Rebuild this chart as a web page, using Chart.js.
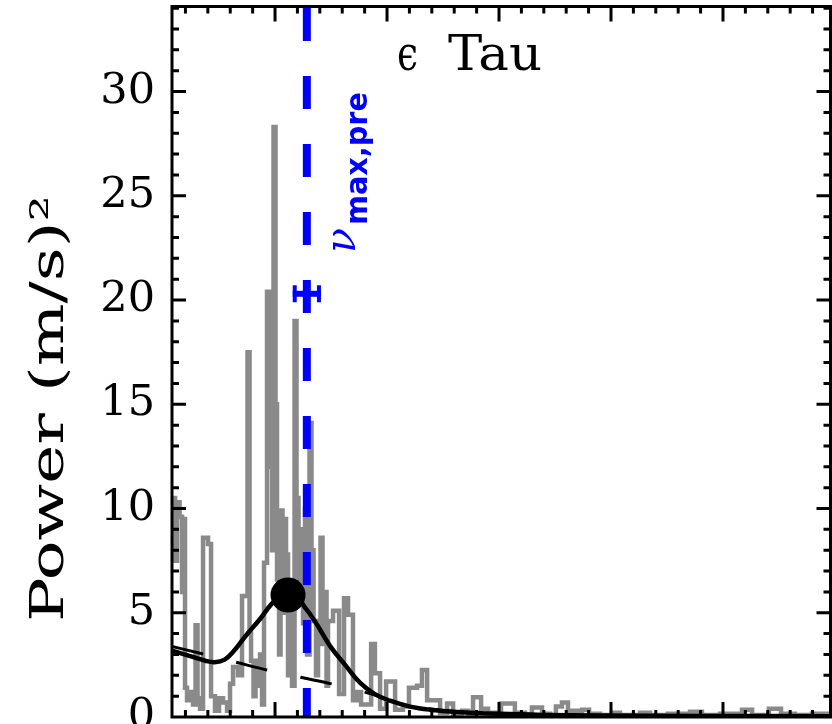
<!DOCTYPE html>
<html><head><meta charset="utf-8">
<script src="https://cdn.jsdelivr.net/npm/chart.js@4.4.1/dist/chart.umd.min.js"></script>
<style>html,body{margin:0;padding:0;background:#fff;overflow:hidden}canvas{display:block}</style>
</head><body>
<canvas id="c" width="832" height="724"></canvas>
<script>
// ---- data (frequency in microHz, power in (m/s)^2) ----
const specFreq = [4.0,5.36,6.25,7.37,8.48,9.15,9.82,10.71,12.05,13.39,14.51,15.40,16.52,17.86,20.09,21.43,23.21,25.0,26.79,28.57,29.91,31.25,33.48,35.27,37.72,38.62,39.29,40.40,41.29,42.41,43.30,44.20,45.09,46.43,47.32,47.99,48.66,49.33,50.22,50.89,51.79,52.46,53.35,54.02,54.91,55.80,56.70,57.59,58.71,59.60,60.49,61.38,62.50,63.39,64.29,65.40,66.29,67.19,68.30,69.20,70.31,71.21,72.10,72.99,73.66,75.9,78.6,80.8,82.6,84.8,86.6,88.4,92.9,94.6,96.9,99.6,103.6,107.1,109.8,113.4,115.6,117.9,123.7,126.8,129.5,133.5,136.2,138.4,142.0,145.1,150.9,157.1,161.6,164.7,169.2,172.8,175.4,178.1,180.8,187.1,190.2,195.1,200.4,204.0,213.0,217.4,225.4,235.3,240.6,248.7,258.5,263.0,270.5,275.9,282.1,289.7,298.0];
const specPower = [10.5,7.5,10.3,9.6,6.0,9.5,1.4,0.8,1.2,0.6,4.4,0.9,0.4,8.6,8.3,1.0,0.3,0.9,0.7,0.3,1.6,2.4,2.0,5.8,17.5,4.0,2.7,1.0,2.7,1.5,3.0,0.6,7.4,20.4,12.0,20.0,8.0,28.3,15.0,6.6,3.0,9.9,5.0,9.5,7.8,2.0,6.0,1.5,19.0,10.5,6.0,9.0,4.5,10.0,3.0,14.1,8.0,4.6,2.0,4.6,8.6,3.5,6.0,1.5,4.6,5.1,1.1,5.7,4.9,0.8,1.2,0.6,3.5,2.1,0.4,1.7,0.35,0.5,1.4,1.5,2.25,0.8,0.2,0.65,0.15,0.3,0.1,0.95,0.4,0.2,0.65,0.2,0.1,0.45,0.15,0.1,0.5,0.7,0.3,0.35,0.15,0.1,0.2,0.1,0.2,0.1,0.15,0.25,0.1,0.15,0.35,0.1,0.4,0.15,0.1,0.15,0.1];

const fitFreq = [4.0,12.1,18.8,23.0,27.5,31.5,36.6,43.3,48.7,53.1,56.7,60.3,63.4,66.5,69.2,74.6,81.3,87.9,94.6,101.3,110.3,119.2,131.3,150.4,169.6,195.1,239.7,298.0];
const fitPower = [3.18,2.92,2.7,2.63,2.75,3.15,3.85,4.7,5.45,5.8,5.9,5.7,5.25,4.8,4.35,3.4,2.5,1.65,1.1,0.78,0.5,0.35,0.24,0.15,0.1,0.07,0.05,0.04];

const bgFreq = [4.0,18.8,33.5,47.8,62.5,77.7,92.4,106.7,123.7,141.5,168.3,204.0,248.7,298.0];
const bgPower = [3.38,3.0,2.6,2.22,1.88,1.53,1.12,0.6,0.33,0.2,0.1,0.07,0.05,0.04];

const numaxFreq = 55.8, numaxPower = 5.85;      // fitted peak (filled circle)
const numaxPre = 64.2, numaxPreErr = 6.3, numaxPreMarkY = 20.3;

const yTickValues = [0,5,10,15,20,25,30];
const xMajorTicks = [50,100,150,200,250];
const xRange = [4.0, 298.0];
const yRange = [0, 34.08];

const titleText = "\u03F5";
const titleText2 = "Tau";
const yTitle = "Power (m/s)\u00B2";
const labelMain = "\u03BD";
const labelSub = "max,pre";

// ---- helpers ----
function zip(a,b){ return a.map((v,i)=>({x:v,y:b[i]})); }
function fittedText(ctx, text, font, x, y, len, rot, color){
  ctx.save();
  ctx.translate(x,y);
  if(rot) ctx.rotate(-Math.PI/2);
  ctx.font = font;
  const w = ctx.measureText(text).width;
  ctx.scale(len ? len/w : 1, 1);
  ctx.fillStyle = color;
  ctx.textBaseline = 'alphabetic';
  ctx.textAlign = 'left';
  ctx.fillText(text,0,0);
  ctx.restore();
}

const framePlugin = {
  id:'frame',
  afterDatasetsDraw(chart){
    const ctx = chart.ctx, a = chart.chartArea;
    const xs = chart.scales.x, ys = chart.scales.y;
    ctx.save();
    // error bar marker on nu_max,pre
    const ex0 = xs.getPixelForValue(numaxPre-numaxPreErr), ex1 = xs.getPixelForValue(numaxPre+numaxPreErr);
    const ey = ys.getPixelForValue(numaxPreMarkY);
    ctx.strokeStyle = '#0000ff'; ctx.lineCap='butt';
    ctx.lineWidth = 6;
    ctx.beginPath(); ctx.moveTo(ex0,ey); ctx.lineTo(ex1,ey); ctx.stroke();
    ctx.lineWidth = 4;
    ctx.beginPath(); ctx.moveTo(ex0+2,ey-8.5); ctx.lineTo(ex0+2,ey+8.5);
    ctx.moveTo(ex1-2,ey-8.5); ctx.lineTo(ex1-2,ey+8.5); ctx.stroke();

    // frame
    ctx.strokeStyle = '#000'; ctx.lineWidth = 3;
    ctx.strokeRect(a.left, a.top, a.right-a.left, a.bottom-a.top);
    ctx.lineWidth = 3;
    ctx.beginPath();
    for(let v=10; v<xRange[1]; v+=10){
      const px = xs.getPixelForValue(v);
      const L = xMajorTicks.includes(v) ? 15 : 7;
      ctx.moveTo(px, a.bottom); ctx.lineTo(px, a.bottom-L);
      ctx.moveTo(px, a.top); ctx.lineTo(px, a.top+L);
    }
    for(let v=1; v<yRange[1]; v+=1){
      const py = ys.getPixelForValue(v);
      const L = (v%5===0) ? 14 : 7;
      ctx.moveTo(a.left, py); ctx.lineTo(a.left+L, py);
      ctx.moveTo(a.right, py); ctx.lineTo(a.right-L, py);
    }
    ctx.stroke();
    ctx.restore();
  },
  afterDraw(chart){
    const ctx = chart.ctx;
    // title
    fittedText(ctx, titleText, '48px "DejaVu Serif"', 397, 70, 21, false, '#000');
    fittedText(ctx, titleText2, '48px "DejaVu Serif"', 448, 70, 94, false, '#000');
    // y title
    fittedText(ctx, yTitle, '46px "DejaVu Serif"', 63, 622, 427, true, '#000');
    // nu_max,pre label
    fittedText(ctx, labelMain, 'italic 42px "DejaVu Serif"', 355, 253, 25, true, '#0000ff');
    fittedText(ctx, labelSub, 'bold 31px "DejaVu Sans"', 367, 225, 133, true, '#0000ff');
  }
};

new Chart(document.getElementById('c'), {
  type:'line',
  data:{ datasets:[
    { data: [{x:numaxFreq,y:numaxPower}], showLine:false, pointRadius:17.5, pointBackgroundColor:'#000', pointBorderWidth:0, order:0 },
    { data: zip(fitFreq,fitPower), borderColor:'#000', borderWidth:4.5, pointRadius:0, tension:0.4, order:1 },
    { data: zip(bgFreq,bgPower), borderColor:'#000', borderWidth:3, pointRadius:0, borderDash:[32,34], cubicInterpolationMode:'monotone', order:2 },
    { data: [{x:numaxPre,y:yRange[1]},{x:numaxPre,y:0}], borderColor:'#0000ff', borderWidth:8, pointRadius:0, borderDash:[33,35], borderDashOffset:-1.5, borderCapStyle:'butt', order:3 },
    { data: zip(specFreq,specPower), borderColor:'#8a8a8a', borderWidth:4.5, pointRadius:0, stepped:true, order:4 }
  ]},
  options:{
    responsive:false, animation:false, devicePixelRatio:1,
    layout:{ padding:{left:0, top:6.5, right:1.5, bottom:7}, autoPadding:false },
    plugins:{ legend:{display:false}, tooltip:{enabled:false} },
    scales:{
      x:{ type:'linear', min:xRange[0], max:xRange[1], display:false },
      y:{ type:'linear', min:yRange[0], max:yRange[1], position:'left',
          afterFit(s){ s.width = 172; s.paddingTop = 0; s.paddingBottom = 0; },
          afterBuildTicks(s){ s.ticks = yTickValues.map(v=>({value:v})); },
          ticks:{ font:{family:'DejaVu Serif', size:43}, color:'#000', padding:17, autoSkip:false, maxRotation:0 },
          grid:{ display:false, drawTicks:false }, border:{ display:false } }
    }
  },
  plugins:[framePlugin]
});
</script>
</body></html>
